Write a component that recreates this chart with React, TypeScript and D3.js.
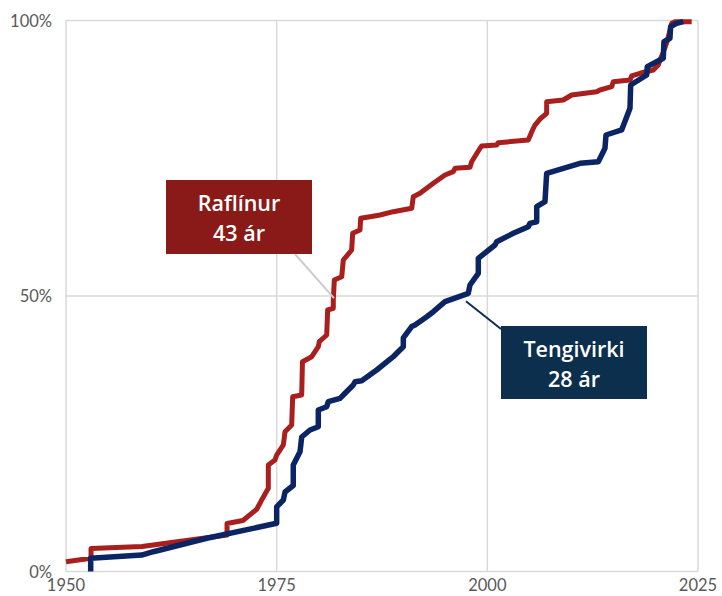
import React, { useEffect, useRef } from 'react';
import * as d3 from 'd3';

// Cumulative share (%) by year
const raflinurYears = [1950, 1952.97, 1952.97, 1959.02, 1969.11, 1969.11, 1971.0, 1972.63, 1973.02, 1973.22, 1974.01, 1974.01, 1974.8, 1975.0, 1975.79, 1975.99, 1976.78, 1976.9, 1977.97, 1978.06, 1979.16, 1979.94, 1980.06, 1980.94, 1981.05, 1981.72, 1981.72, 1981.84, 1982.72, 1982.91, 1983.9, 1984.02, 1984.89, 1984.97, 1986.08, 1987.26, 1988.84, 1991.03, 1991.21, 1992.01, 1993.59, 1994.98, 1995.96, 1996.16, 1997.94, 1998.14, 1999.13, 1999.33, 2001.11, 2001.3, 2004.86, 2005.26, 2005.65, 2006.25, 2007.04, 2007.04, 2009.01, 2010.01, 2012.97, 2013.37, 2014.76, 2014.95, 2016.93, 2017.13, 2018.12, 2019.7, 2020.29, 2020.49, 2020.85, 2021.32, 2021.88, 2022.27, 2024.25];
const raflinurPct = [1.78, 2.4, 4.17, 4.54, 6.62, 8.71, 9.26, 11.29, 12.38, 12.98, 15.1, 19.33, 20.24, 21.14, 22.96, 25.37, 26.59, 31.72, 32.03, 38.08, 38.98, 40.8, 41.71, 42.92, 47.46, 47.77, 49.27, 52.9, 53.5, 56.53, 58.35, 61.38, 61.98, 64.1, 64.39, 64.7, 65.3, 65.92, 68.02, 68.64, 70.45, 71.96, 72.56, 73.18, 73.36, 74.37, 76.81, 77.22, 77.4, 77.82, 78.31, 79.76, 81.03, 82.12, 83.16, 85.26, 85.57, 86.48, 87.08, 87.39, 87.99, 88.9, 89.2, 89.93, 90.42, 91.02, 91.92, 92.83, 94.1, 96.1, 99.49, 99.78, 99.78];

const tengivirkiYears = [1952.93, 1952.93, 1958.98, 1960.36, 1966.7, 1975.0, 1975.0, 1975.79, 1975.99, 1976.97, 1976.97, 1977.77, 1977.97, 1978.96, 1979.94, 1979.94, 1980.94, 1981.13, 1982.52, 1983.11, 1984.09, 1984.3, 1985.09, 1986.87, 1988.84, 1989.24, 1990.03, 1990.03, 1991.02, 1991.42, 1992.81, 1993.59, 1994.98, 1997.74, 1997.94, 1998.93, 1998.93, 2000.91, 2001.11, 2003.08, 2004.86, 2005.06, 2005.86, 2005.86, 2006.84, 2007.04, 2011.0, 2013.17, 2013.96, 2014.08, 2015.94, 2016.93, 2017.01, 2018.91, 2018.98, 2020.88, 2020.96, 2021.67, 2021.75, 2022.46, 2023.25];
const tengivirkiPct = [0, 2.4, 2.99, 3.59, 6.03, 8.75, 11.71, 12.98, 14.43, 15.61, 19.33, 21.74, 24.41, 25.68, 26.28, 29.31, 29.91, 30.82, 31.43, 32.34, 33.85, 34.45, 34.63, 36.57, 38.98, 39.6, 40.8, 42.38, 44.46, 44.74, 46.24, 47.15, 48.97, 50.49, 52.0, 54.12, 56.84, 59.26, 59.85, 61.38, 62.58, 63.19, 63.48, 66.21, 67.11, 72.27, 74.08, 74.37, 76.81, 79.22, 80.13, 84.07, 88.29, 90.11, 91.62, 93.14, 96.15, 96.77, 98.87, 99.49, 99.8];

const xTicks = [1950, 1975, 2000, 2025];
const yTicks = [0, 50, 100];

const labelNames = ['Raflínur', 'Tengivirki'];
const labelAges = ['43 ár', '28 ár'];
const labelAnchors = [[1981.8, 49.6], [1997.7, 49.6]];

const W = 722;
const H = 596;
const margin = { left: 66, right: 24, top: 20.5, bottom: 24.5 };

const App = () => {
  const svgRef = useRef<SVGSVGElement>(null);

  useEffect(() => {
    if (!svgRef.current) return;
    const svg = d3.select(svgRef.current);
    svg.selectAll('*').remove();

    const x = d3.scaleLinear().domain([1950, 2025]).range([margin.left, W - margin.right]);
    const y = d3.scaleLinear().domain([0, 100]).range([H - margin.bottom, margin.top]);

    const font = 'Lato, "Open Sans", sans-serif';
    const boxFont = '"Open Sans", Lato, sans-serif';
    const grid = '#d9d9d9';

    // gridlines
    svg.append('g')
      .selectAll('line')
      .data(xTicks)
      .enter().append('line')
      .attr('x1', d => x(d)).attr('x2', d => x(d))
      .attr('y1', y(0)).attr('y2', y(100))
      .attr('stroke', grid).attr('stroke-width', 1.5);

    svg.append('g')
      .selectAll('line')
      .data(yTicks)
      .enter().append('line')
      .attr('x1', x(1950)).attr('x2', x(2025))
      .attr('y1', d => y(d)).attr('y2', d => y(d))
      .attr('stroke', grid).attr('stroke-width', 1.5);

    // tick labels
    svg.append('g')
      .selectAll('text')
      .data(yTicks)
      .enter().append('text')
      .attr('x', 52)
      .attr('y', d => y(d) + 6)
      .attr('text-anchor', 'end')
      .style('font-family', font)
      .style('font-size', '16.5px')
      .style('fill', '#595959')
      .text(d => `${d}%`);

    svg.append('g')
      .selectAll('text')
      .data(xTicks)
      .enter().append('text')
      .attr('x', d => x(d))
      .attr('y', 591)
      .attr('text-anchor', 'middle')
      .style('font-family', font)
      .style('font-size', '16.5px')
      .style('fill', '#595959')
      .text(d => String(d));

    const line = d3.line<[number, number]>()
      .x(d => x(d[0]))
      .y(d => y(d[1]));

    const red = raflinurYears.map((yr, i) => [yr, raflinurPct[i]] as [number, number]);
    const blue = tengivirkiYears.map((yr, i) => [yr, tengivirkiPct[i]] as [number, number]);

    svg.append('path')
      .attr('d', line(red))
      .attr('fill', 'none')
      .attr('stroke', '#a81f1e')
      .attr('stroke-width', 5)
      .attr('stroke-linejoin', 'round');

    svg.append('path')
      .attr('d', line(blue))
      .attr('fill', 'none')
      .attr('stroke', '#0b2463')
      .attr('stroke-width', 5.5)
      .attr('stroke-linejoin', 'round');

    // annotation boxes
    const boxes = [
      { x0: 166, y0: 180, w: 146, h: 74, fill: '#8a1a17', lineColor: '#cccccc', lx: 295, ly: 254 },
      { x0: 501, y0: 326, w: 146, h: 73, fill: '#0d2f4e', lineColor: '#0d2f4e', lx: 501, ly: 329 },
    ];

    boxes.forEach((b, i) => {
      const [ax, ay] = labelAnchors[i];
      svg.append('line')
        .attr('x1', b.lx).attr('y1', b.ly)
        .attr('x2', x(ax) + (i === 0 ? 0 : -2)).attr('y2', y(ay) + (i === 0 ? 0 : 3))
        .attr('stroke', b.lineColor)
        .attr('stroke-width', 2);

      svg.append('rect')
        .attr('x', b.x0).attr('y', b.y0)
        .attr('width', b.w).attr('height', b.h)
        .attr('fill', b.fill);

      const t = svg.append('text')
        .attr('text-anchor', 'middle')
        .style('font-family', boxFont)
        .style('font-size', '21.5px')
        .style('font-weight', '600')
        .style('fill', '#ffffff');
      t.append('tspan').attr('x', b.x0 + b.w / 2).attr('y', b.y0 + 31).text(labelNames[i]);
      t.append('tspan').attr('x', b.x0 + b.w / 2).attr('y', b.y0 + 61).text(labelAges[i]);
    });
  }, []);

  return (
    <svg
      ref={svgRef}
      width={W}
      height={H}
      style={{ position: 'absolute', left: 0, top: 0, background: '#fff' }}
    />
  );
};

export default App;
